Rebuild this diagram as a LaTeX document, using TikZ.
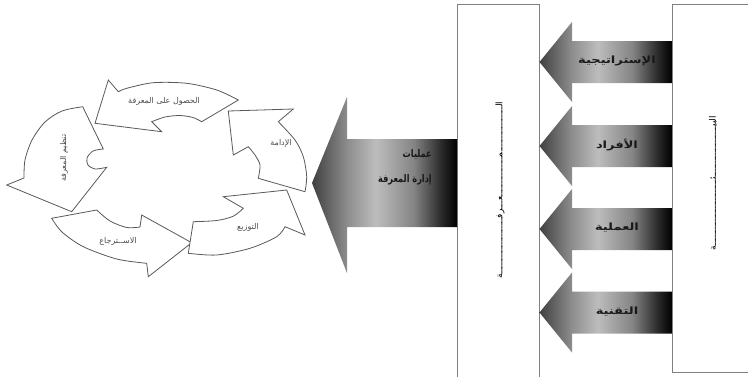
\documentclass[tikz,border=0pt]{standalone}
\usepackage{fontspec}
\newfontfamily\arfont[Script=Arabic]{DejaVu Sans}
\TeXXeTstate=1
\colorlet{shTip}{black!75}
\colorlet{shBase}{black!45}
\colorlet{shLight}{black!26}
\colorlet{shMid}{black!48}
\colorlet{shDark}{black!85}
\colorlet{shEnd}{black}
\pgfdeclarehorizontalshading{arrshade}{100bp}{color(0bp)=(shTip); color(25bp)=(shTip); color(37bp)=(shBase); color(47bp)=(shLight); color(60bp)=(shMid); color(70bp)=(shDark); color(75bp)=(shEnd); color(100bp)=(shEnd)}
\tikzset{
  panel/.style={draw=black!50, line width=0.8pt, fill=white},
  cyc/.style={draw=black!65, line width=0.8pt, fill=white, line join=miter},
  bigarr/.style={shading=arrshade},
  cyclabel/.style={font=\arfont\fontsize{8}{9}\selectfont, text=black!70, inner sep=0pt},
  arrlabel/.style={font=\arfont\bfseries\fontsize{10}{11}\selectfont, text=black!90, inner sep=0pt},
  kmlabel/.style={font=\arfont\bfseries\fontsize{10.5}{25}\selectfont, text=black!90, inner sep=0pt, anchor=east, align=right},
  vlabel/.style={font=\arfont\fontsize{9}{10}\selectfont, text=black, inner sep=0pt, rotate=90}
}
\begin{document}
\begin{tikzpicture}[x=1pt,y=-1pt]
\path[use as bounding box] (0,0) rectangle (748,376);
\clip (0,0) rectangle (748,376);
% panels
\draw[panel] (457,4) rectangle (539.5,380);
\draw[panel] (672,4) rectangle (760,372);
% four arrows between panels
\foreach \yc/\nm/\txt in {62/a1/الإستراتيجية, 146/a2/الأفراد, 229/a3/العملية, 312.5/a4/التقنية}{
  \path[bigarr] (672,\yc-21) -- (572,\yc-21) -- (572,\yc-40) -- (539.5,\yc) -- (572,\yc+40) -- (572,\yc+21) -- (672,\yc+21) -- cycle;
  \node[arrlabel] (\nm) at (617,\yc-1) {\scalebox{1.3}[1]{\beginR\txt\endR}};
}
% big arrow
\path[bigarr] (457,139) -- (347,139) -- (347,97) -- (312,183) -- (347,273) -- (347,227) -- (457,227) -- cycle;
\node[kmlabel] (km) at (432,167) {\scalebox{0.78}[1]{\beginR عمليات\endR}\\\scalebox{0.78}[1]{\beginR إدارة المعرفة\endR}};
% vertical texts
\node[vlabel] (know) at (500,190) {\beginR الـــــــــــــــــمـــــــــــــــعـــرفـــــــــــــــــــــة\endR};
\node[vlabel] (env) at (713,183) {\beginR البيـــــــــــــــــــئـــــــــــــــــــــــــة\endR};
% cycle arrows
\draw[cyc] (238.3,100) -- plot[smooth] coordinates {(238.3,100) (216.7,90) (186.7,83.3) (153.3,82.7) (126.7,88.3) (118.3,91.7)}
  -- (108.3,80) -- (95,123.3) -- (161.7,131.7) -- (151.7,121.7)
  -- plot[smooth] coordinates {(151.7,121.7) (165,117) (180,115.5) (193,117.5) (201.7,121.7)} -- cycle;
\draw[cyc] (82.7,106.7) -- (103.3,149)
  -- plot[smooth] coordinates {(103.3,149) (93,151) (87,158) (88,165) (95,169) (106.7,167.3)}
  -- (71.7,211.7) -- (6.7,185) -- (24,178)
  -- plot[smooth] coordinates {(24,178) (25,160) (32,140) (45,122) (62,111) (82.7,106.7)} -- cycle;
\draw[cyc] (51.7,218.3) -- (96.7,210)
  -- plot[smooth] coordinates {(96.7,210) (110,221) (126.7,227.5) (140,227)}
  -- (141.7,215) -- (191.7,242.7) -- (148.3,276.7) -- (146.7,263.3)
  -- plot[smooth] coordinates {(146.7,263.3) (116.7,259) (83.3,246.7) (62,232) (51.7,218.3)} -- cycle;
\draw[cyc] (193.3,221.7) -- (188.3,253.3)
  -- plot[smooth] coordinates {(188.3,253.3) (216.7,255) (250,248.3) (276.7,236.7) (285,226.7)}
  -- (305,235) -- (286.7,190) -- (223.3,196.7) -- (243.3,208.3)
  -- plot[smooth] coordinates {(243.3,208.3) (233.3,216.2) (216.7,220.5) (193.3,221.7)} -- cycle;
\draw[cyc] (228.3,111) -- (293.3,109) -- (278.3,121.7)
  -- plot[smooth] coordinates {(278.3,121.7) (295,140) (303.3,156.7) (306.7,176.7) (305,191.7)}
  -- (258.3,178.3)
  -- plot[smooth] coordinates {(258.3,178.3) (260,165) (255,155) (248.3,146.7)}
  -- (233.3,155) -- cycle;
% cycle labels
\node[cyclabel] (l1) at (164,101) {\beginR الحصول على المعرفة\endR};
\node[cyclabel, rotate=90] (l2) at (64,158) {\beginR تنظيم المعرفة\endR};
\node[cyclabel] (l3) at (118,241) {\beginR الاســترجاع\endR};
\node[cyclabel] (l4) at (248,227) {\beginR التوزيع\endR};
\node[cyclabel] (l5) at (281,143) {\beginR الإدامة\endR};
\end{tikzpicture}
\end{document}
